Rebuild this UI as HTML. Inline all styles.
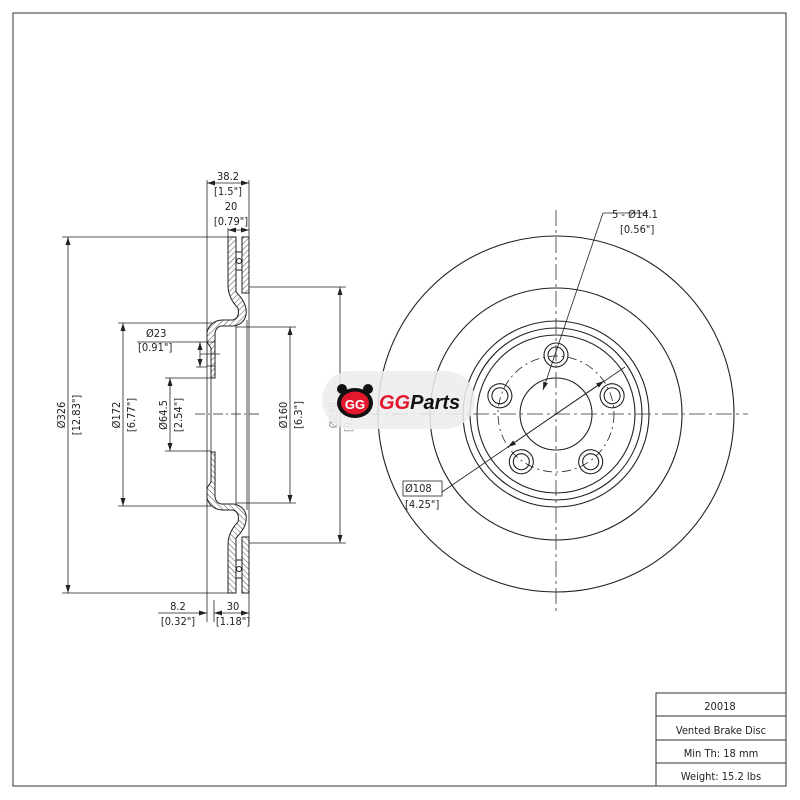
<!DOCTYPE html>
<html><head><meta charset="utf-8"><style>
html,body{margin:0;padding:0;background:#fff;}
svg{display:block;font-family:"DejaVu Sans Condensed","Liberation Sans",sans-serif;}
text{fill:#222;font-size:11px;}
</style></head><body>
<svg width="800" height="800" viewBox="0 0 800 800" xmlns="http://www.w3.org/2000/svg">
<defs>
<pattern id="h" width="4" height="4" patternUnits="userSpaceOnUse" patternTransform="rotate(45)">
<rect width="4" height="4" fill="#fff"/><line x1="0" y1="0" x2="0" y2="4" stroke="#222" stroke-width="0.8"/></pattern>
<marker id="a" markerWidth="8" markerHeight="6" refX="8" refY="3" orient="auto-start-reverse" markerUnits="userSpaceOnUse"><path d="M0,0.5 L8,3 L0,5.5 Z" fill="#222"/></marker>
</defs>
<rect x="13" y="13" width="773" height="773" fill="none" stroke="#333" stroke-width="1"/>
<!-- title block -->
<g stroke="#333" fill="none">
<path d="M656,786 V693 H786 M656,716 H786 M656,740 H786 M656,763 H786"/>
</g>
<text x="720" y="710" text-anchor="middle" font-size="12">20018</text>
<text x="721" y="734" text-anchor="middle" font-size="12">Vented Brake Disc</text>
<text x="721" y="757" text-anchor="middle" font-size="12">Min Th: 18 mm</text>
<text x="721" y="780" text-anchor="middle" font-size="12">Weight: 15.2 lbs</text>

<!-- logo -->
<rect x="322" y="371" width="153" height="58" rx="29" fill="#efefef"/>

<!-- right view -->
<g fill="none" stroke="#222" stroke-width="1.1">
<circle cx="556" cy="414" r="178"/>
<circle cx="556" cy="414" r="126"/>
<circle cx="556" cy="414" r="93"/>
<circle cx="556" cy="414" r="86"/>
<circle cx="556" cy="414" r="79"/>
<circle cx="556" cy="414" r="36"/>
<circle cx="556" cy="414" r="58" stroke-dasharray="9,4,2,4" stroke-width="0.8"/>
<g id="bh">
<circle cx="556" cy="355" r="12"/><circle cx="556" cy="355" r="8"/>
</g>
<use href="#bh" transform="rotate(72 556 414)"/>
<use href="#bh" transform="rotate(144 556 414)"/>
<use href="#bh" transform="rotate(216 556 414)"/>
<use href="#bh" transform="rotate(288 556 414)"/>
</g>
<g stroke="#333" stroke-width="0.8" fill="none" stroke-dasharray="16,4,3,4">
<line x1="365" y1="414" x2="748" y2="414"/>
<line x1="556" y1="210" x2="556" y2="615"/>
</g>
<g stroke="#222" stroke-width="0.8" fill="none">
<path d="M603,213 H648"/>
<line x1="603" y1="213" x2="543" y2="390" marker-end="url(#a)"/>
<line x1="442" y1="492" x2="625" y2="367"/>
<line x1="556" y1="414" x2="604" y2="381" marker-end="url(#a)"/>
<line x1="556" y1="414" x2="508" y2="447" marker-end="url(#a)"/>
<rect x="403" y="481" width="39" height="15"/>
</g>
<text x="612" y="218">5 - Ø14.1</text>
<text x="620" y="233">[0.56"]</text>
<text x="405" y="492">Ø108</text>
<text x="405" y="508">[4.25"]</text>

<!-- section -->
<g id="half" stroke="#222" stroke-width="1">
<path fill="url(#h)" d="M228,237 L236,237 L236,292 Q248,304 246,315 Q244,324 234,326 L221,326 Q216,327 215,333 L215,378 L211,378 L211,348 L207,342 L207,332 Q210,321 222,320 L233,320 Q240,318 238,308 Q228,298 228,285 Z"/>
<rect x="242" y="237" width="7" height="56" fill="url(#h)"/>
<line x1="236" y1="252" x2="242" y2="252"/><line x1="236" y1="270" x2="242" y2="270"/>
<circle cx="239" cy="261" r="2.5" fill="#fff"/>
</g>
<use href="#half" transform="translate(0,830) scale(1,-1)"/>
<g stroke="#222" stroke-width="0.8" fill="none">
<line x1="207" y1="180" x2="207" y2="622"/>
<line x1="249" y1="180" x2="249" y2="622"/>
<line x1="214" y1="600" x2="214" y2="622"/>
<line x1="228" y1="228" x2="228" y2="237"/>
<line x1="236" y1="326" x2="236" y2="504"/>
<line x1="247" y1="320" x2="247" y2="510"/>
<line x1="211" y1="378" x2="211" y2="452"/>
<line x1="195" y1="414" x2="262" y2="414" stroke-dasharray="10,3,2,3"/>
<!-- bolt hole in section -->
<rect x="207" y="342" width="8" height="24"/>
<line x1="200" y1="354" x2="220" y2="354"/>
<!-- extension lines -->
<path d="M62,237 H228 M62,593 H228 M118,323 H212 M118,506 H212 M165,378 H211 M165,451 H211 M236,327 H296 M236,503 H296 M249,287 H346 M249,543 H346 M137,342 H207 M196,367 H207"/>
<!-- dims -->
<line x1="68" y1="237" x2="68" y2="593" marker-start="url(#a)" marker-end="url(#a)"/>
<line x1="123" y1="323" x2="123" y2="506" marker-start="url(#a)" marker-end="url(#a)"/>
<line x1="170" y1="378" x2="170" y2="451" marker-start="url(#a)" marker-end="url(#a)"/>
<line x1="290" y1="327" x2="290" y2="503" marker-start="url(#a)" marker-end="url(#a)"/>
<line x1="340" y1="287" x2="340" y2="543" marker-start="url(#a)" marker-end="url(#a)"/>
<line x1="200" y1="342" x2="200" y2="367" marker-start="url(#a)" marker-end="url(#a)"/>
<line x1="207" y1="183" x2="249" y2="183" marker-start="url(#a)" marker-end="url(#a)"/>
<line x1="228" y1="230" x2="249" y2="230" marker-start="url(#a)" marker-end="url(#a)"/>
<line x1="158" y1="613" x2="207" y2="613" marker-end="url(#a)"/>
<line x1="214" y1="613" x2="249" y2="613" marker-start="url(#a)" marker-end="url(#a)"/>
</g>
<text x="228" y="180" text-anchor="middle">38.2</text>
<text x="228" y="195" text-anchor="middle">[1.5"]</text>
<text x="231" y="210" text-anchor="middle">20</text>
<text x="231" y="225" text-anchor="middle">[0.79"]</text>
<text x="178" y="610" text-anchor="middle">8.2</text>
<text x="178" y="625" text-anchor="middle">[0.32"]</text>
<text x="233" y="610" text-anchor="middle">30</text>
<text x="233" y="625" text-anchor="middle">[1.18"]</text>
<text x="146" y="337">Ø23</text>
<text x="138" y="351">[0.91"]</text>
<g text-anchor="middle">
<text transform="translate(65,415) rotate(-90)">Ø326</text>
<text transform="translate(80,415) rotate(-90)">[12.83"]</text>
<text transform="translate(120,415) rotate(-90)">Ø172</text>
<text transform="translate(135,415) rotate(-90)">[6.77"]</text>
<text transform="translate(167,415) rotate(-90)">Ø64.5</text>
<text transform="translate(182,415) rotate(-90)">[2.54"]</text>
<text transform="translate(287,415) rotate(-90)">Ø160</text>
<text transform="translate(302,415) rotate(-90)">[6.3"]</text>
<text transform="translate(337,415) rotate(-90)" fill="#aaa" style="fill:#999">Ø236</text>
<text transform="translate(352,415) rotate(-90)" style="fill:#999">[9.29"]</text>
</g>

<!-- logo content -->
<rect x="322" y="371" width="153" height="58" rx="29" fill="#efefef" opacity="0.85"/>
<g>
<circle cx="342" cy="389" r="5" fill="#111"/><circle cx="368" cy="389" r="5" fill="#111"/>
<ellipse cx="355" cy="403" rx="18" ry="15" fill="#111"/>
<ellipse cx="355" cy="403" rx="14" ry="11.5" fill="#e3182d"/>
<text x="355" y="409" text-anchor="middle" style="fill:#fff;font-size:13px;font-weight:bold;font-family:'Liberation Sans',sans-serif">GG</text>
</g>
<text x="379" y="409" style="font-size:20px;font-weight:bold;font-style:italic;font-family:'Liberation Sans',sans-serif"><tspan style="fill:#e3182d">GG</tspan><tspan style="fill:#111">Parts</tspan></text>
</svg>
</body></html>
